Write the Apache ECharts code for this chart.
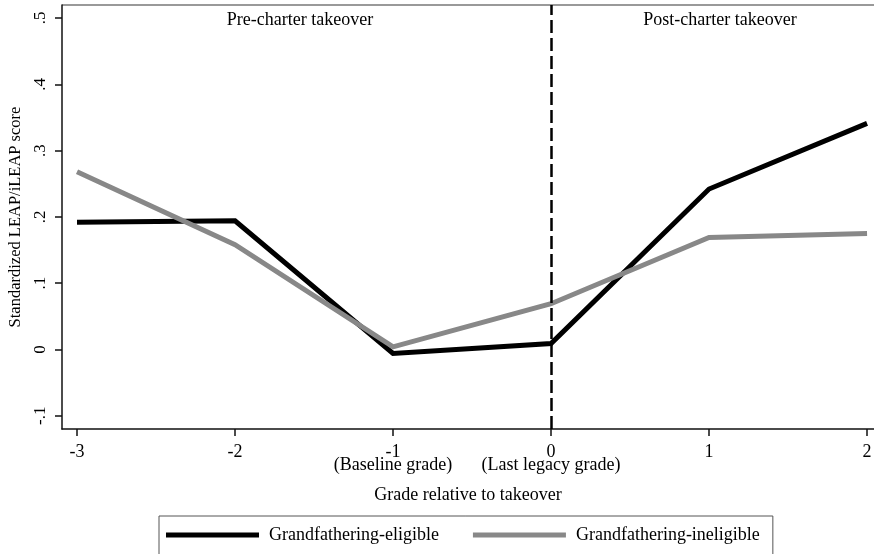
<!DOCTYPE html>
<html>
<head>
<meta charset="utf-8">
<script src="https://cdn.jsdelivr.net/npm/echarts@6/dist/echarts.min.js"></script>
<style>
html,body{margin:0;padding:0;background:#fff;}
#chart{width:874px;height:554px;}
</style>
</head>
<body>
<div id="chart"></div>
<script>
const grades = [-3, -2, -1, 0, 1, 2];
const gradeNotes = {'-1': '(Baseline grade)', '0': '(Last legacy grade)'};
const eligible = [0.192, 0.194, -0.006, 0.009, 0.242, 0.341];
const ineligible = [0.268, 0.158, 0.004, 0.069, 0.169, 0.175];
const yTicks = [-0.1, 0, 0.1, 0.2, 0.3, 0.4, 0.5];
const seriesNames = ['Grandfathering-eligible', 'Grandfathering-ineligible'];
const periodLabels = ['Pre-charter takeover', 'Post-charter takeover'];
const xTitle = 'Grade relative to takeover';
const yTitle = 'Standardized LEAP/iLEAP score';

const FONT = '"Liberation Serif", "Times New Roman", serif';
const chart = echarts.init(document.getElementById('chart'), null, {renderer: 'canvas'});

function fmtY(v) {
  const r = Math.round(v * 10) / 10;
  if (r === 0) return '0';
  return String(r).replace('0.', '.');
}

const option = {
  animation: false,
  backgroundColor: '#fff',
  grid: {left: 62, right: 0, top: 5, bottom: 125, containLabel: false, outerBoundsMode: 'none'},
  xAxis: {
    type: 'value',
    min: -3.095,
    max: 2.044,
    name: xTitle,
    nameLocation: 'middle',
    nameGap: 57,
    nameTextStyle: {fontFamily: FONT, fontSize: 18, color: '#000'},
    axisLine: {show: true, onZero: false, lineStyle: {color: '#111', width: 1.5}},
    axisTick: {show: true, length: 7, customValues: grades, lineStyle: {color: '#111', width: 1.5}},
    axisLabel: {
      customValues: grades,
      margin: 17,
      fontFamily: FONT, fontSize: 18, color: '#000', lineHeight: 13,
      formatter: function (v) {
        const k = String(Math.round(v));
        return gradeNotes[k] ? k + '\n' + gradeNotes[k] : k;
      }
    },
    splitLine: {show: false}
  },
  yAxis: {
    type: 'value',
    min: -0.12,
    max: 0.5196,
    name: yTitle,
    nameLocation: 'middle',
    nameGap: 35,
    nameRotate: 90,
    nameTextStyle: {fontFamily: FONT, fontSize: 16.5, color: '#000'},
    axisLine: {show: true, onZero: false, lineStyle: {color: '#111', width: 1.5}},
    axisTick: {show: true, length: 7, customValues: yTicks, lineStyle: {color: '#111', width: 1.5}},
    axisLabel: {
      customValues: yTicks,
      rotate: 90,
      margin: 13,
      fontFamily: FONT, fontSize: 17, color: '#000',
      formatter: fmtY
    },
    splitLine: {show: false}
  },
  legend: {
    show: true,
    left: 159,
    top: 516,
    orient: 'horizontal',
    borderColor: '#555',
    borderWidth: 1,
    padding: [10, 13, 18, 7],
    itemWidth: 93,
    itemHeight: 5,
    itemGap: 34,
    icon: 'rect',
    textStyle: {fontFamily: FONT, fontSize: 18, color: '#000', padding: [0, 0, 0, 5]},
    data: seriesNames
  },
  graphic: [
    {type: 'line', shape: {x1: 62, y1: 5, x2: 874, y2: 5}, style: {stroke: '#777', lineWidth: 1.5}, silent: true},
    {type: 'text', x: 300, y: 20, style: {text: periodLabels[0], font: '18px ' + FONT, fill: '#000', textAlign: 'center', textVerticalAlign: 'middle'}},
    {type: 'text', x: 720, y: 20, style: {text: periodLabels[1], font: '18px ' + FONT, fill: '#000', textAlign: 'center', textVerticalAlign: 'middle'}}
  ],
  series: [
    {
      name: seriesNames[0],
      type: 'line',
      data: grades.map((g, i) => [g, eligible[i]]),
      symbol: 'none',
      lineStyle: {color: '#000', width: 5, join: 'miter'},
      itemStyle: {color: '#000'},
      z: 3,
      markLine: {
        silent: true,
        symbol: 'none',
        label: {show: false},
        lineStyle: {color: '#000', width: 2.5, type: [13, 5]},
        data: [{xAxis: 0}]
      }
    },
    {
      name: seriesNames[1],
      type: 'line',
      data: grades.map((g, i) => [g, ineligible[i]]),
      symbol: 'none',
      lineStyle: {color: '#888', width: 5, join: 'miter'},
      itemStyle: {color: '#888'},
      z: 4
    }
  ]
};
chart.setOption(option);
</script>
</body>
</html>
